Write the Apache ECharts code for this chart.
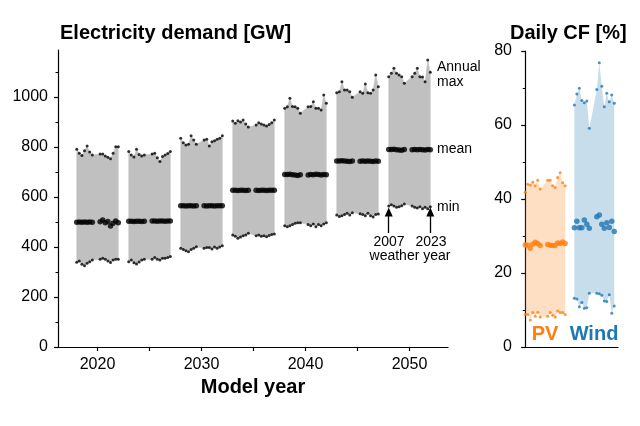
<!DOCTYPE html>
<html>
<head>
<meta charset="utf-8">
<script src="https://cdn.jsdelivr.net/npm/echarts@6/dist/echarts.min.js"></script>
<style>html,body{margin:0;padding:0;background:#fff}#c{width:640px;height:426px}</style>
</head>
<body>
<div id="c"></div>
<script>
// ---------- DATA ----------
const weatherYears = [2007,2008,2009,2010,2011,2012,2013,2016,2017,2018,2019,2020,2021,2022,2023];
const modelYears = [2020,2025,2030,2035,2040,2045,2050];
const xTickValues = [2020,2025,2030,2035,2040,2045,2050];
const xLabelValues = [2020,2030,2040,2050];
const yLabelValues = [0,200,400,600,800,1000];
const yMinorValues = [100,300,500,700,900,1100];

const demandMax = [
  [791,775,766,785,804,780,768, 772,772,764,759,753,775,801,801],
  [782,768,760,791,770,764,768, 772,775,757,742,762,768,774,782],
  [835,817,808,811,845,828,811, 828,831,804,821,825,831,835,845],
  [904,895,905,900,908,892,880, 888,897,892,888,884,890,897,908],
  [955,961,995,962,961,955,935, 961,962,981,955,955,948,1008,975],
  [1017,1021,1061,1028,1028,1021,999, 1021,1015,1052,1017,1015,1028,1088,1041],
  [1081,1095,1115,1095,1088,1081,1055, 1081,1095,1115,1081,1080,1061,1148,1099]
];
const demandMean = [
  [499,500,499,500,499,500,499, 501,508,497,502,484,495,504,497],
  [503,503,502,503,503,502,503, 504,504,503,504,504,503,504,504],
  [565,565,564,565,565,564,565, 565,564,565,565,564,565,565,565],
  [627,627,626,627,627,626,627, 627,626,627,627,626,627,627,627],
  [690,690,691,689,688,686,689, 688,690,689,691,690,688,690,689],
  [744,744,745,744,743,742,744, 743,744,743,744,743,742,744,743],
  [790,790,791,789,788,787,790, 789,790,789,790,789,788,790,789]
];
const demandMin = [
  [339,344,331,325,335,341,348, 351,355,351,344,338,348,351,351],
  [341,348,337,332,340,348,351, 351,358,351,348,355,355,358,362],
  [395,390,385,381,390,395,401, 395,398,398,392,400,395,400,405],
  [448,443,435,440,445,448,455, 445,448,443,445,441,446,450,452],
  [485,481,485,490,495,497,497, 490,485,492,481,490,485,492,497],
  [528,522,525,530,535,528,537, 533,530,525,535,525,520,530,532],
  [564,569,564,559,561,565,572, 564,559,556,561,553,559,553,561]
];

const pvMax   = [41.8,44.0,43.8,44.5,43.6,45.1,42.7, 45.1,45.1,43.6,43.1,45.8,47.1,44.4,43.6];
const pvMean  = [27.6,27.5,26.7,27.8,28.3,28.0,27.4, 27.7,27.5,27.4,27.4,28.1,28.0,28.4,28.0];
const pvMin   = [8.8,8.8,7.3,9.3,8.3,9.4,8.1, 8.3,9.3,8.6,8.1,9.7,9.3,9.3,8.8];
const windMax = [65.4,68.4,69.9,66.6,66.0,66.5,59.1, 69.6,76.8,70.5,64.9,68.6,66.3,68.1,65.9];
const windMean= [32.2,34.0,32.2,32.2,34.3,33.2,32.1, 35.2,35.7,33.2,32.1,33.6,32.3,34.0,31.2];
const windMin = [13.2,13.0,10.9,12.0,10.5,10.6,14.5, 14.5,14.4,14.0,12.4,12.3,14.1,9.1,11.1];

// ---------- HELPERS ----------
const FONT = '"Liberation Sans", Arial, Helvetica, sans-serif';
const wy0 = weatherYears[0];
const demX = (g, w) => modelYears[g] - 2 + (w - wy0) * 0.25;
const pvX = w => (w - wy0);
const windX = w => (w - wy0) + 19.7;
const plain = v => String(Math.round(v));

function flat(arr2d) {
  const out = [];
  arr2d.forEach((vals, g) => vals.forEach((v, j) => out.push([demX(g, weatherYears[j]), v])));
  return out;
}
function pairs(xf, vals) { return vals.map((v, j) => [xf(weatherYears[j]), v]); }

function polyPoints(api, xs, lo, hi) {
  const pts = [];
  for (let j = 0; j < xs.length; j++) pts.push(api.coord([xs[j], hi[j]]));
  for (let j = xs.length - 1; j >= 0; j--) pts.push(api.coord([xs[j], lo[j]]));
  return pts;
}

const black = '#000';
const orange = '#ff7f0e', blue = '#1f77b4';
const lastG = modelYears.length - 1;
const arrowX0 = demX(lastG, weatherYears[0]);
const arrowX1 = demX(lastG, weatherYears[weatherYears.length - 1]);

const chart = echarts.init(document.getElementById('c'), null, {renderer: 'canvas'});
const axisLineStyle = {color: black, width: 1.2};

const option = {
  animation: false,
  backgroundColor: '#fff',
  textStyle: {fontFamily: FONT},
  grid: [
    {left: 58, right: 192, top: 50, bottom: 79},
    {left: 522, right: 22, top: 51, bottom: 79}
  ],
  xAxis: [
    {
      type: 'value', gridIndex: 0, min: 2016.2, max: 2053.7,
      axisLine: {show: true, lineStyle: axisLineStyle},
      axisTick: {show: true, customValues: xTickValues, length: 4, lineStyle: axisLineStyle},
      axisLabel: {customValues: xLabelValues, formatter: plain, fontSize: 16, color: black, margin: 10, fontFamily: FONT},
      splitLine: {show: false},
      name: 'Model year', nameLocation: 'middle', nameGap: 29,
      nameTextStyle: {fontSize: 20, fontWeight: 'bold', color: black, fontFamily: FONT}
    },
    {
      type: 'value', gridIndex: 1, min: -1.3, max: 37.2,
      axisLine: {show: true, lineStyle: axisLineStyle},
      axisTick: {show: false}, axisLabel: {show: false}, splitLine: {show: false}
    }
  ],
  yAxis: [
    {
      type: 'value', gridIndex: 0, min: 0, max: 1188, position: 'left',
      axisLine: {show: true, lineStyle: axisLineStyle},
      axisTick: {show: true, customValues: yLabelValues, length: 4, lineStyle: axisLineStyle},
      axisLabel: {customValues: yLabelValues, formatter: plain, fontSize: 16, color: black, margin: 10, fontFamily: FONT},
      splitLine: {show: false}
    },
    {
      type: 'value', gridIndex: 1, min: 0, max: 80, interval: 20, position: 'left',
      axisLine: {show: true, lineStyle: axisLineStyle},
      axisTick: {show: true, length: 4, lineStyle: axisLineStyle},
      minorTick: {show: true, splitNumber: 2, length: 2.5, lineStyle: {color: black, width: 1}},
      axisLabel: {fontSize: 16, color: black, margin: 10, fontFamily: FONT, formatter: plain},
      splitLine: {show: false}
    },
    {
      type: 'value', gridIndex: 0, min: 0, max: 1188, position: 'left', offset: 0,
      axisLine: {show: false},
      axisTick: {show: true, customValues: yMinorValues, length: 2.5, lineStyle: {color: black, width: 1}},
      axisLabel: {show: false}, splitLine: {show: false}
    }
  ],
  series: [
    {
      type: 'custom', xAxisIndex: 0, yAxisIndex: 0, z: 1,
      data: modelYears.map(m => [m, 0]),
      renderItem: function (params, api) {
        const g = params.dataIndex;
        const xs = weatherYears.map(w => demX(g, w));
        return {type: 'polygon', shape: {points: polyPoints(api, xs, demandMin[g], demandMax[g])},
                style: {fill: '#c0c0c0', stroke: '#c0c0c0', lineWidth: 0.5}};
      }
    },
    {type: 'scatter', xAxisIndex: 0, yAxisIndex: 0, z: 3, symbolSize: 3, itemStyle: {color: black}, data: flat(demandMax)},
    {type: 'scatter', xAxisIndex: 0, yAxisIndex: 0, z: 3, symbolSize: 3, itemStyle: {color: black}, data: flat(demandMin)},
    {type: 'scatter', xAxisIndex: 0, yAxisIndex: 0, z: 3, symbolSize: 5.5, itemStyle: {color: black}, data: flat(demandMean)},
    {
      type: 'scatter', xAxisIndex: 0, yAxisIndex: 0, data: [], z: 4,
      markLine: {
        silent: true, animation: false,
        symbol: ['none', 'triangle'], symbolSize: [8, 9],
        label: {show: false},
        lineStyle: {color: black, width: 1.3, type: 'solid'},
        data: [
          [{coord: [arrowX0, 456]}, {coord: [arrowX0, 540]}],
          [{coord: [arrowX1, 456]}, {coord: [arrowX1, 540]}]
        ]
      }
    },
    {
      type: 'custom', xAxisIndex: 1, yAxisIndex: 1, z: 1, data: [[0, 0]],
      renderItem: function (params, api) {
        const xs = weatherYears.map(pvX);
        return {type: 'polygon', shape: {points: polyPoints(api, xs, pvMin, pvMax)},
                style: {fill: 'rgba(255,127,14,0.25)'}};
      }
    },
    {
      type: 'custom', xAxisIndex: 1, yAxisIndex: 1, z: 1, data: [[0, 0]],
      renderItem: function (params, api) {
        const xs = weatherYears.map(windX);
        return {type: 'polygon', shape: {points: polyPoints(api, xs, windMin, windMax)},
                style: {fill: 'rgba(31,119,180,0.25)'}};
      }
    },
    {type: 'scatter', xAxisIndex: 1, yAxisIndex: 1, z: 3, symbolSize: 3, itemStyle: {color: orange}, data: pairs(pvX, pvMax)},
    {type: 'scatter', xAxisIndex: 1, yAxisIndex: 1, z: 3, symbolSize: 3, itemStyle: {color: orange}, data: pairs(pvX, pvMin)},
    {type: 'scatter', xAxisIndex: 1, yAxisIndex: 1, z: 3, symbolSize: 5.5, itemStyle: {color: orange}, data: pairs(pvX, pvMean)},
    {type: 'scatter', xAxisIndex: 1, yAxisIndex: 1, z: 3, symbolSize: 3, itemStyle: {color: blue}, data: pairs(windX, windMax)},
    {type: 'scatter', xAxisIndex: 1, yAxisIndex: 1, z: 3, symbolSize: 3, itemStyle: {color: blue}, data: pairs(windX, windMin)},
    {type: 'scatter', xAxisIndex: 1, yAxisIndex: 1, z: 3, symbolSize: 5.5, itemStyle: {color: blue}, data: pairs(windX, windMean)}
  ],
  graphic: [
    {type: 'text', x: 60, y: 33, style: {text: 'Electricity demand [GW]', font: 'bold 20px ' + FONT, fill: black, align: 'left', verticalAlign: 'middle'}},
    {type: 'text', x: 510, y: 33, style: {text: 'Daily CF [%]', font: 'bold 20px ' + FONT, fill: black, align: 'left', verticalAlign: 'middle'}},
    {type: 'text', x: 437, y: 67, style: {text: 'Annual', font: '14px ' + FONT, fill: black, align: 'left', verticalAlign: 'middle'}},
    {type: 'text', x: 437, y: 82, style: {text: 'max', font: '14px ' + FONT, fill: black, align: 'left', verticalAlign: 'middle'}},
    {type: 'text', x: 437, y: 149, style: {text: 'mean', font: '14px ' + FONT, fill: black, align: 'left', verticalAlign: 'middle'}},
    {type: 'text', x: 437, y: 207, style: {text: 'min', font: '14px ' + FONT, fill: black, align: 'left', verticalAlign: 'middle'}},
    {type: 'text', x: 389, y: 242, style: {text: '2007', font: '14px ' + FONT, fill: black, align: 'center', verticalAlign: 'middle'}},
    {type: 'text', x: 431, y: 242, style: {text: '2023', font: '14px ' + FONT, fill: black, align: 'center', verticalAlign: 'middle'}},
    {type: 'text', x: 410, y: 256, style: {text: 'weather year', font: '14px ' + FONT, fill: black, align: 'center', verticalAlign: 'middle'}},
    {type: 'text', x: 545, y: 334, style: {text: 'PV', font: 'bold 20px ' + FONT, fill: orange, align: 'center', verticalAlign: 'middle'}},
    {type: 'text', x: 594, y: 334, style: {text: 'Wind', font: 'bold 20px ' + FONT, fill: blue, align: 'center', verticalAlign: 'middle'}}
  ]
};
chart.setOption(option);
</script>
</body>
</html>
